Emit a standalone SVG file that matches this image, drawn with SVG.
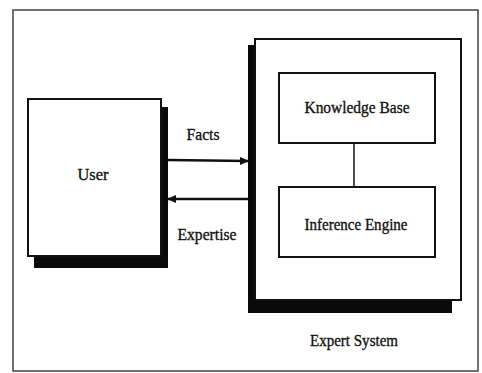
<svg xmlns="http://www.w3.org/2000/svg" width="482" height="373" viewBox="0 0 482 373">
<style>
text{font-family:"Liberation Serif","Times New Roman",serif;font-size:17px;fill:#111;stroke:#111;stroke-width:0.35;text-anchor:middle}
.box{fill:#fff;stroke:#111;stroke-width:2}
.sh{fill:#0a0a0a}
.ln{stroke:#111;stroke-width:2.5;fill:none}
</style>
<defs>
<marker id="ah" markerWidth="9" markerHeight="8" refX="8" refY="4" orient="auto" markerUnits="userSpaceOnUse">
<path d="M0,0 L9,4 L0,8 Z" fill="#111"/>
</marker>
</defs>
<rect x="0" y="0" width="482" height="373" fill="#fff"/>
<rect x="13" y="10" width="465" height="361" fill="none" stroke="#444" stroke-width="1.5"/>
<g id="user">
<rect class="sh" x="34" y="107" width="134" height="161"/>
<rect class="box" x="28" y="99" width="133" height="157"/>
<text x="93" y="180" textLength="31" lengthAdjust="spacingAndGlyphs">User</text>
</g>
<g id="expert-system">
<rect class="sh" x="248" y="45" width="204" height="268"/>
<rect class="box" x="255" y="39" width="206" height="261"/>
<text x="354" y="346" textLength="88" lengthAdjust="spacingAndGlyphs">Expert System</text>
</g>
<g id="knowledge-base">
<rect class="box" x="279" y="73" width="156" height="70" stroke-width="2.5"/>
<text x="357" y="113" textLength="105" lengthAdjust="spacingAndGlyphs">Knowledge Base</text>
</g>
<g id="inference-engine">
<rect class="box" x="279" y="187" width="156" height="70" stroke-width="2.5"/>
<text x="356" y="230" textLength="103" lengthAdjust="spacingAndGlyphs">Inference Engine</text>
</g>
<g id="connectors">
<line class="ln" x1="168" y1="160" x2="248" y2="161" marker-end="url(#ah)"/>
<line class="ln" x1="248" y1="199" x2="168" y2="199" marker-end="url(#ah)"/>
<line x1="354" y1="143" x2="354" y2="187" stroke="#111" stroke-width="1.5"/>
<text x="203" y="140" textLength="33" lengthAdjust="spacingAndGlyphs">Facts</text>
<text x="207" y="240" textLength="59" lengthAdjust="spacingAndGlyphs">Expertise</text>
</g>
</svg>
